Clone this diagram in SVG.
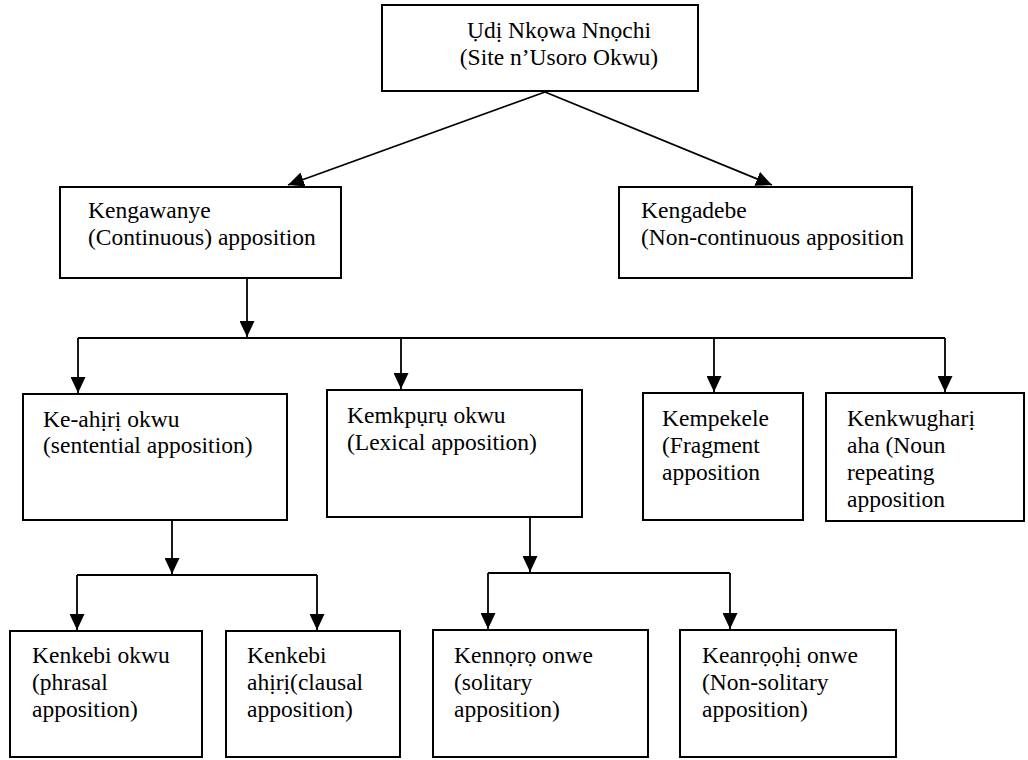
<svg xmlns="http://www.w3.org/2000/svg" width="1028" height="760" viewBox="0 0 1028 760">
<style>
.box{fill:#fff;stroke:#000;stroke-width:2}
.t{font-family:'Liberation Serif','DejaVu Serif','Times New Roman',serif;font-size:23.5px;fill:#000}
.c{fill:none;stroke:#000;stroke-width:1.8}
</style>
<defs>
<marker id="ah" markerUnits="userSpaceOnUse" markerWidth="17" markerHeight="15" refX="16" refY="7.5" orient="auto">
<path d="M0,0 L16,7.5 L0,15 z" fill="#000"/>
</marker>
</defs>
<rect width="1028" height="760" fill="#fff"/>
<g id="connectors">
<line class="c" x1="545" y1="92" x2="288" y2="185" marker-end="url(#ah)"/>
<line class="c" x1="545" y1="92" x2="772" y2="185" marker-end="url(#ah)"/>
<line class="c" x1="247" y1="279" x2="247" y2="337" marker-end="url(#ah)"/>
<line class="c" x1="78" y1="338" x2="945" y2="338"/>
<line class="c" x1="78" y1="338" x2="78" y2="393" marker-end="url(#ah)"/>
<line class="c" x1="401" y1="338" x2="401" y2="389" marker-end="url(#ah)"/>
<line class="c" x1="714" y1="338" x2="714" y2="392" marker-end="url(#ah)"/>
<line class="c" x1="945" y1="338" x2="945" y2="392" marker-end="url(#ah)"/>
<line class="c" x1="172" y1="521" x2="172" y2="574" marker-end="url(#ah)"/>
<line class="c" x1="77" y1="575" x2="317" y2="575"/>
<line class="c" x1="77" y1="575" x2="77" y2="630" marker-end="url(#ah)"/>
<line class="c" x1="317" y1="575" x2="317" y2="630" marker-end="url(#ah)"/>
<line class="c" x1="530" y1="518" x2="530" y2="572" marker-end="url(#ah)"/>
<line class="c" x1="488" y1="573" x2="730" y2="573"/>
<line class="c" x1="488" y1="573" x2="488" y2="629" marker-end="url(#ah)"/>
<line class="c" x1="730" y1="573" x2="730" y2="629" marker-end="url(#ah)"/>
</g>
<g id="root">
<rect class="box" x="382" y="5" width="316" height="86"/>
<text class="t" x="559" y="38" text-anchor="middle">Ụdị Nkọwa Nnọchi</text>
<text class="t" x="559" y="65" text-anchor="middle">(Site n’Usoro Okwu)</text>
</g>
<g id="kengawanye">
<rect class="box" x="60" y="187" width="281" height="91"/>
<text class="t" x="88" y="218">Kengawanye</text>
<text class="t" x="88" y="245">(Continuous) apposition</text>
</g>
<g id="kengadebe">
<rect class="box" x="619" y="187" width="293" height="91"/>
<text class="t" x="641" y="218">Kengadebe</text>
<text class="t" x="641" y="245">(Non-continuous apposition</text>
</g>
<g id="keahiri">
<rect class="box" x="23" y="394" width="264" height="126"/>
<text class="t" x="43" y="427">Ke-ahịrị okwu</text>
<text class="t" x="43" y="453">(sentential apposition)</text>
</g>
<g id="kemkpuru">
<rect class="box" x="327" y="390" width="255" height="127"/>
<text class="t" x="347" y="423">Kemkpụrụ okwu</text>
<text class="t" x="347" y="450">(Lexical apposition)</text>
</g>
<g id="kempekele">
<rect class="box" x="643" y="393" width="160" height="127"/>
<text class="t" x="662" y="426">Kempekele</text>
<text class="t" x="662" y="453">(Fragment</text>
<text class="t" x="662" y="480">apposition</text>
</g>
<g id="kenkwughari">
<rect class="box" x="826" y="393" width="198" height="128"/>
<text class="t" x="847" y="426">Kenkwugharị</text>
<text class="t" x="847" y="453">aha (Noun</text>
<text class="t" x="847" y="480">repeating</text>
<text class="t" x="847" y="507">apposition</text>
</g>
<g id="kenkebi-okwu">
<rect class="box" x="10" y="631" width="192" height="126"/>
<text class="t" x="32" y="663">Kenkebi okwu</text>
<text class="t" x="32" y="690">(phrasal</text>
<text class="t" x="32" y="717">apposition)</text>
</g>
<g id="kenkebi-ahiri">
<rect class="box" x="226" y="631" width="174" height="126"/>
<text class="t" x="247" y="663">Kenkebi</text>
<text class="t" x="247" y="690">ahịrị(clausal</text>
<text class="t" x="247" y="717">apposition)</text>
</g>
<g id="kennoro">
<rect class="box" x="433" y="630" width="215" height="127"/>
<text class="t" x="454" y="663">Kennọrọ onwe</text>
<text class="t" x="454" y="690">(solitary</text>
<text class="t" x="454" y="717">apposition)</text>
</g>
<g id="keanrooohi">
<rect class="box" x="680" y="630" width="216" height="127"/>
<text class="t" x="702" y="663">Keanrọọhị onwe</text>
<text class="t" x="702" y="690">(Non-solitary</text>
<text class="t" x="702" y="717">apposition)</text>
</g>
</svg>
